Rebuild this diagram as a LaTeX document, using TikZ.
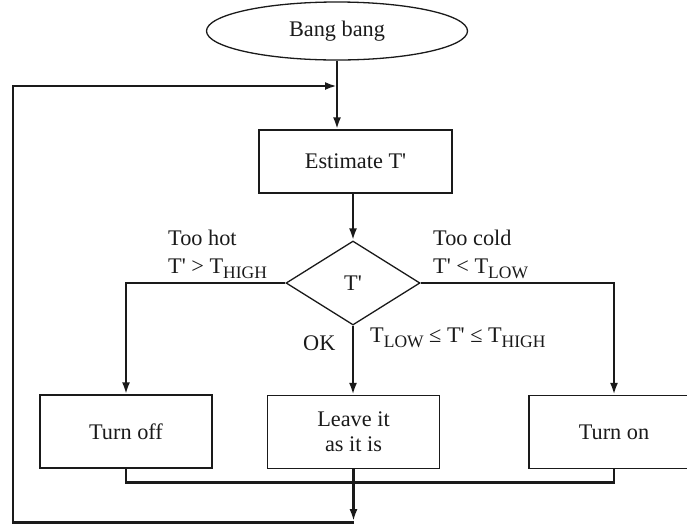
\documentclass[tikz,border=0pt]{standalone}
\usepackage{fontspec}
\setmainfont{Liberation Serif}
\usetikzlibrary{shapes.geometric,arrows.meta}
\definecolor{ink}{HTML}{1A1A1A}
\newcommand{\sbx}[1]{\raisebox{-0.26em}{\fontsize{17.5}{17.5}\selectfont #1}}
\newcommand{\pq}{\textquotesingle}
\begin{document}
\begin{tikzpicture}[x=1pt,y=-1pt,
  every node/.style={text=ink},
  box/.style={draw=ink, line width=1.3pt, rectangle, minimum width=172pt, minimum height=73pt,
    inner sep=0pt, align=center, font=\fontsize{22.3}{25}\selectfont},
  conn/.style={draw=ink, line width=2.4pt, -{Latex[length=12pt,width=8pt]}},
  wire/.style={draw=ink, line width=2.4pt},
  lbl/.style={font=\fontsize{22.3}{28}\selectfont, inner sep=0pt, anchor=base west}
]
\useasboundingbox (0,0) rectangle (687,523);
\clip (0,0) rectangle (687,523);

\node[draw=ink, line width=1.3pt, ellipse, minimum width=261pt, minimum height=58pt, inner sep=0pt,
  font=\fontsize{22.3}{25}\selectfont] (ell) at (337,31) {Bang bang};
\node[box, minimum width=193pt, minimum height=63pt] (est) at (355.5,161.5) {Estimate T\pq};
\node[draw=ink, line width=1.3pt, diamond, minimum width=134pt, minimum height=84pt, inner sep=0pt,
  font=\fontsize{22.3}{25}\selectfont] (dia) at (353,283) {T\pq};
\node[box] (off) at (126,431.5) {Turn off};
\node[box] (leave) at (353.5,432) {Leave it\\as it is};
\node[box, minimum width=170pt] (on) at (614,432) {Turn on};

\node[lbl] (hot1) at (168,245) {Too hot};
\node[lbl] (hot2) at (168,273) {T\pq{} > T\sbx{HIGH}};
\node[lbl] (cold1) at (433,245) {Too cold};
\node[lbl] (cold2) at (433,273) {T\pq{} < T\sbx{LOW}};
\node[lbl] (ok) at (303,350) {OK};
\node[lbl] (okr) at (370,342) {T\sbx{LOW} ≤ T\pq{} ≤ T\sbx{HIGH}};

\coordinate (bl) at (13,522.6);
\coordinate (tl) at (13,86);

\draw[conn] (ell.south) -- (ell.south |- est.north);
\draw[conn] (dia.north |- est.south) -- (dia.north);
\draw[conn] (dia.west) -| (off.north);
\draw[conn] (dia.east) -| (on.north);
\draw[conn] (dia.south) -- (dia.south |- leave.north);
\draw[wire] (off.south) -- ++(0,14) -| (on.south);
\draw[conn] (leave.south) -- ++(0,52);
\draw[conn] (leave.south |- bl) -- (bl) -- (tl) -- (tl -| ell.south);
\end{tikzpicture}
\end{document}
